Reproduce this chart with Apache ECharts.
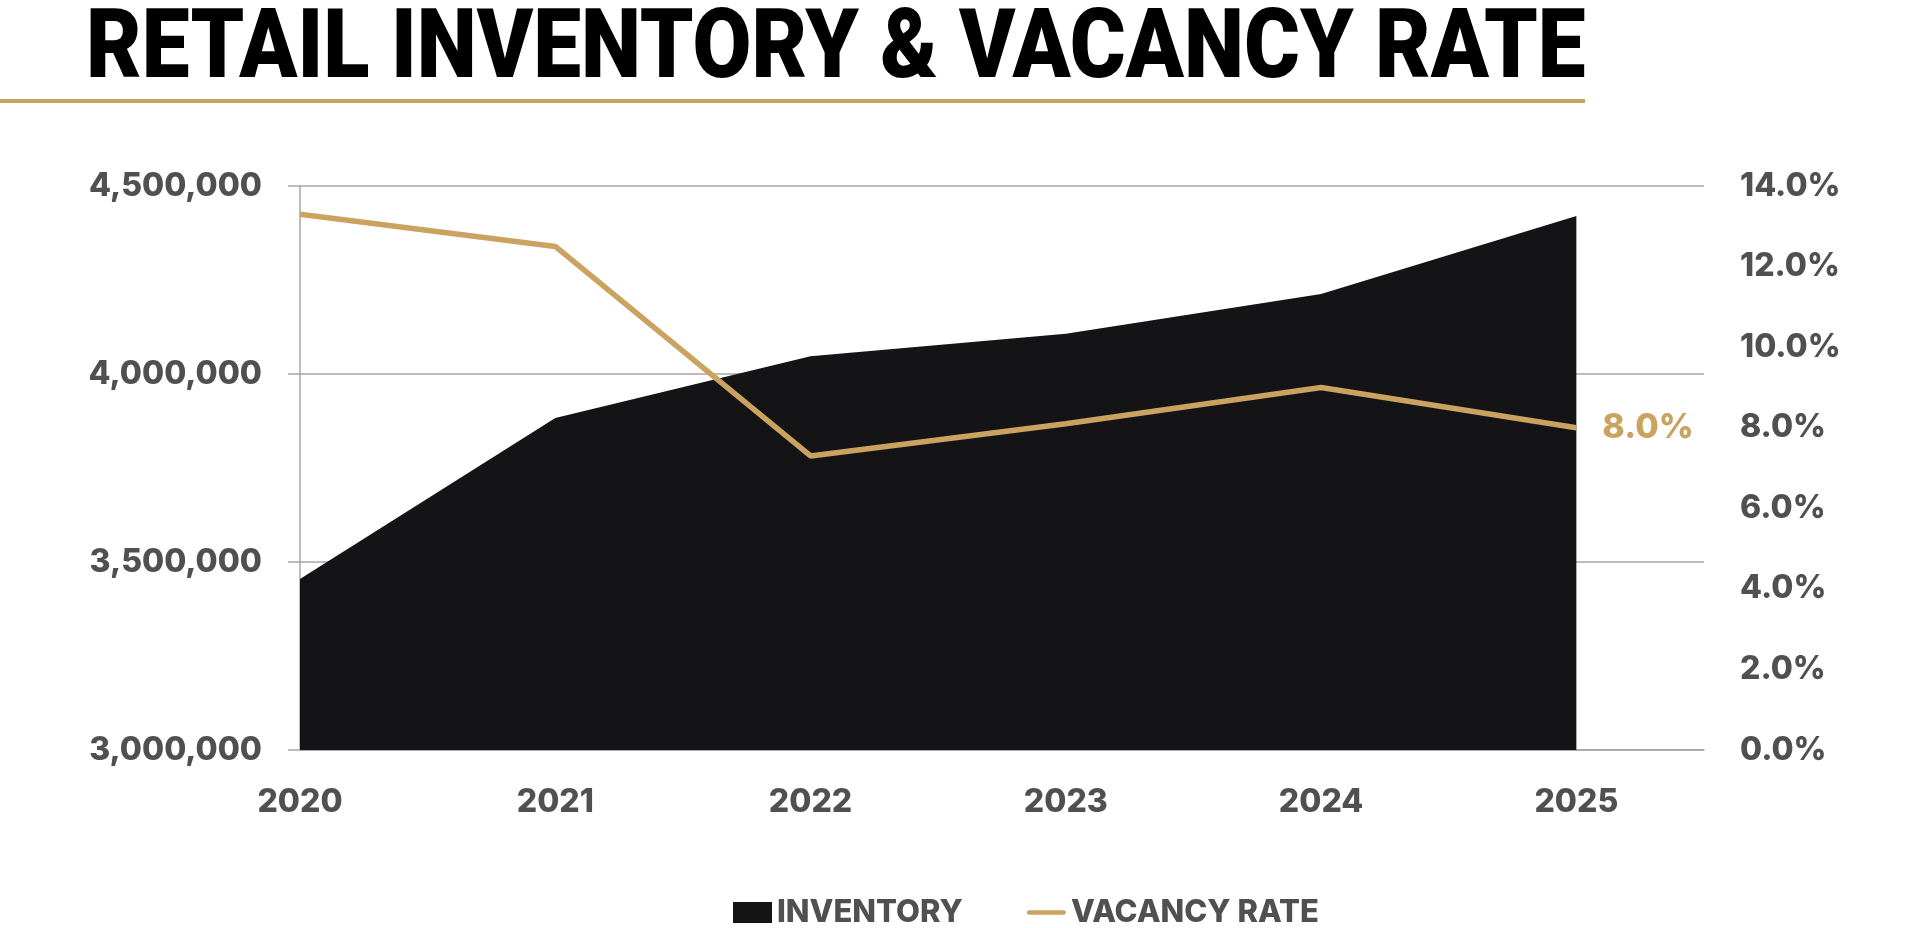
<!DOCTYPE html>
<html>
<head>
<meta charset="utf-8">
<script src="https://cdn.jsdelivr.net/npm/echarts@6/dist/echarts.min.js"></script>
<style>
html,body{margin:0;padding:0;background:#fff;}
#chart{width:1917px;height:928px;}
</style>
</head>
<body>
<div id="chart"></div>
<script>
const years = [2020, 2021, 2022, 2023, 2024, 2025];
const inventory = [3455000, 3883000, 4047000, 4107000, 4213000, 4420000];
const vacancyRate = [13.3, 12.5, 7.3, 8.1, 9.0, 8.0];
const titleText = 'RETAIL INVENTORY & VACANCY RATE';
const seriesNames = ['INVENTORY', 'VACANCY RATE'];

const GOLD = '#C9A35F';
const DARK = '#141416';
const GREY_TXT = '#505050';
const FONT = 'Inter, "Noto Sans", sans-serif';

const chart = echarts.init(document.getElementById('chart'), null, {renderer: 'canvas'});
chart.setOption({
  animation: false,
  backgroundColor: '#fff',
  graphic: [
    {
      type: 'text', x: 86, y: 53, scaleX: 0.89, scaleY: 1,
      style: {text: titleText, x: 0, y: 0, fill: '#000', font: '900 96px Roboto, sans-serif',
              align: 'left', verticalAlign: 'middle'}
    },
    {
      type: 'line', shape: {x1: 0, y1: 101, x2: 1585, y2: 101},
      style: {stroke: GOLD, lineWidth: 4}
    }
  ],
  legend: {
    left: 728, top: 892,
    itemWidth: 39, itemHeight: 21, itemGap: 64,
    textStyle: {color: GREY_TXT, fontSize: 31, fontWeight: 800, fontFamily: FONT},
    data: [
      {name: seriesNames[0], icon: 'rect'},
      {name: seriesNames[1], icon: 'path://M2.5,0 H39.5 A2.5,2.5 0 0 1 39.5,5 H2.5 A2.5,2.5 0 0 1 2.5,0 Z'}
    ]
  },
  grid: {left: 300, right: 213, top: 186, bottom: 178},
  xAxis: {
    type: 'value', min: 2020, max: 2025.5, interval: 1,
    axisLine: {show: true, lineStyle: {color: '#a6a6a6', width: 1.5}},
    axisTick: {show: false},
    splitLine: {show: false},
    axisLabel: {
      margin: 36, color: GREY_TXT, fontSize: 32, fontWeight: 800, fontFamily: FONT,
      showMaxLabel: false,
      formatter: v => (Number.isInteger(v) && years.indexOf(v) >= 0) ? String(v) : ''
    }
  },
  yAxis: [
    {
      type: 'value', min: 3000000, max: 4500000, interval: 500000, position: 'left',
      axisLine: {show: true, lineStyle: {color: '#a6a6a6', width: 1.5}},
      axisTick: {show: true, length: 12, lineStyle: {color: '#a6a6a6', width: 1.5}},
      splitLine: {show: true, lineStyle: {color: '#a6a6a6', width: 1.5}},
      axisLabel: {
        margin: 38, color: GREY_TXT, fontSize: 32, fontWeight: 800, fontFamily: FONT,
        formatter: v => v.toLocaleString('en-US')
      }
    },
    {
      type: 'value', min: 0, max: 14, interval: 2, position: 'right',
      axisLine: {show: false}, axisTick: {show: false}, splitLine: {show: false},
      axisLabel: {
        margin: 36, color: GREY_TXT, fontSize: 32, fontWeight: 800, fontFamily: FONT,
        formatter: v => v.toFixed(1) + '%'
      }
    }
  ],
  series: [
    {
      name: seriesNames[0], type: 'line', yAxisIndex: 0,
      data: years.map((y, i) => [y, inventory[i]]),
      symbol: 'none', lineStyle: {width: 0, color: DARK},
      itemStyle: {color: DARK},
      areaStyle: {color: DARK, opacity: 1, origin: 'start'},
      z: 1
    },
    {
      name: seriesNames[1], type: 'line', yAxisIndex: 1,
      data: years.map((y, i) => [y, vacancyRate[i]]),
      symbol: 'none', lineStyle: {width: 5.5, color: GOLD},
      itemStyle: {color: GOLD},
      endLabel: {
        show: true, distance: 26, color: GOLD, fontSize: 34, fontWeight: 800, fontFamily: FONT,
        formatter: p => p.value[1].toFixed(1) + '%'
      },
      z: 3
    }
  ]
});
</script>
</body>
</html>
